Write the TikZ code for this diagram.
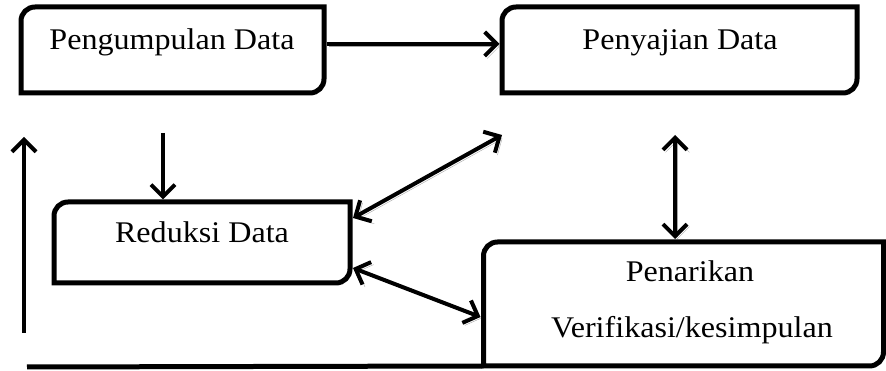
\documentclass[tikz,border=0pt]{standalone}
\usepackage{fontspec}
\setmainfont{Liberation Serif}
\usetikzlibrary{arrows.meta}
\newcommand\rdbox[1]{\draw[boxline] (#1.south west) -- ([yshift=-14pt]#1.north west) arc[start angle=180,end angle=90,radius=14pt] -- (#1.north east) -- ([yshift=14pt]#1.south east) arc[start angle=0,end angle=-90,radius=14pt] -- cycle;}
\newcommand\wtxt[1]{\scalebox{1.07}[1]{#1}}
\begin{document}
\begin{tikzpicture}[x=1pt,y=1pt,
  boxnode/.style={draw=none,inner sep=0pt,outer sep=0pt},
  boxline/.style={line width=5pt,line join=miter},
  lbl/.style={anchor=base,inner sep=0pt,font=\fontsize{30}{36}\selectfont},
  arr/.style={line width=4pt,-{Straight Barb[length=12pt,width=24pt]}},
  darr/.style={line width=4pt,{Straight Barb[length=12pt,width=24pt]}-{Straight Barb[length=12pt,width=24pt]}},
  shad/.style={preaction={draw=black!35,transform canvas={shift={(2.5pt,-2.5pt)}}}}]
\useasboundingbox (0,0) rectangle (886,371);
\node[boxnode,minimum width=303pt,minimum height=86pt] (b1) at (172.5,321) {};
\node[boxnode,minimum width=355pt,minimum height=86pt] (b2) at (679.5,321) {};
\node[boxnode,minimum width=296pt,minimum height=81pt] (b3) at (202,128.5) {};
\node[boxnode,minimum width=400pt,minimum height=124pt] (b4) at (683.5,67) {};
\rdbox{b1}\rdbox{b2}\rdbox{b3}\rdbox{b4}
\node[lbl] (t1) at (172,321) {\wtxt{Pengumpulan Data}};
\node[lbl] (t2) at (680,321) {\wtxt{Penyajian Data}};
\node[lbl] (t3) at (202,128) {\wtxt{Reduksi Data}};
\node[lbl] (t4) at (690,89) {\wtxt{Penarikan}};
\node[lbl] (t5) at (692,33) {\wtxt{Verifikasi/kesimpulan}};
% connectors
\draw[arr,shad] ([xshift=2.5pt]b1.east |- 0,327) -- ([xshift=-2.5pt]b2.west |- 0,327);
\coordinate (d1) at (163,238);
\draw[arr] (d1) -- ([yshift=2.5pt]b3.north -| 163,0);
\coordinate (u1) at (24,38);
\coordinate (u2) at (24,234);
\draw[arr] (u1) -- (u2);
\coordinate (l1) at (27,4);
\draw[line width=5pt] (l1) -- (b4.south west);
\coordinate (p1) at (502,236);
\draw[darr,shad] ([xshift=3pt]b3.east |- 0,153) -- (p1);
\draw[darr,shad] ([xshift=3pt]b3.east |- 0,103) -- ([xshift=-3pt]b4.west |- 0,54);
\coordinate (v1) at (675,236);
\draw[darr,shad] (v1) -- ([yshift=3pt]b4.north -| 675,0);
\end{tikzpicture}
\end{document}
